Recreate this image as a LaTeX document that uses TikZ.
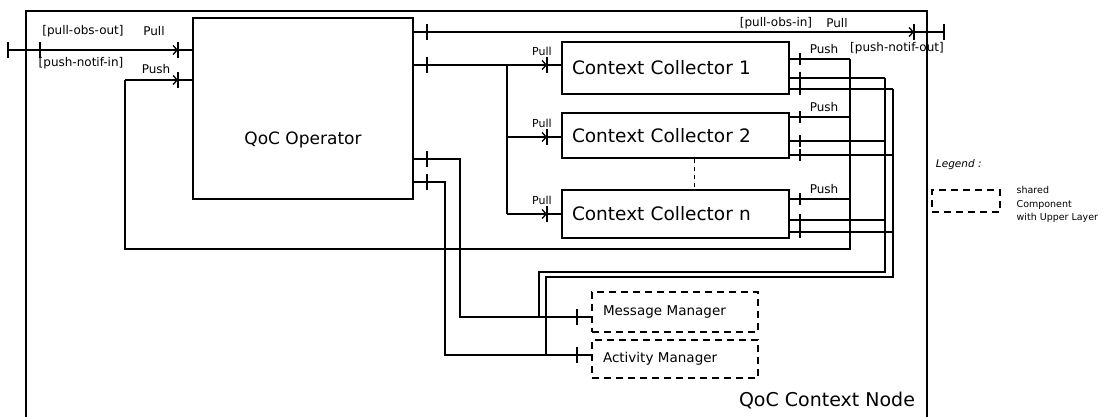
\documentclass[tikz,border=0pt]{standalone}
\usepackage{fontspec}
\setmainfont{DejaVu Sans}
\usetikzlibrary{arrows.meta}
\begin{document}
\begin{tikzpicture}[x=1pt,y=-1pt,line width=1.3pt,>={Straight Barb[length=4pt,width=9pt]},
	comp/.style={draw,rectangle,inner sep=0pt},
	coll/.style={draw,rectangle,inner xsep=10pt,inner ysep=0pt,text width=207pt,align=left,font=\fontsize{18.5}{19}\selectfont},
	shared/.style={draw,dash pattern=on 7pt off 5pt,line width=1.1pt,inner xsep=11pt,inner ysep=0pt,text width=144pt,align=left,font=\fontsize{13.5}{14}\selectfont},
	lbl/.style={inner sep=0pt,font=\fontsize{12}{12}\selectfont}]
	\useasboundingbox (0,0) rectangle (1109,417);
	% node frame
	\draw (26,417) -- (26,11) -- (927,11) -- (927,417);
	\node (nodename) at (827,401) {\fontsize{19}{19}\selectfont QoC Context Node};
	% components
	\node[comp,minimum width=220pt,minimum height=181pt] (op) at (303,108.5) {};
	\node[font=\fontsize{17}{17}\selectfont] (opname) at (303,140) {QoC Operator};
	\node[coll,minimum height=52pt] (cc1) at (675.5,68) {Context Collector 1};
	\node[coll,minimum height=45pt] (cc2) at (675.5,135.5) {Context Collector 2};
	\node[coll,minimum height=48pt] (ccn) at (675.5,214) {Context Collector n};
	\node[shared,minimum height=40pt] (mm) at (675,312) {Message Manager};
	\node[shared,minimum height=38pt] (am) at (675,359) {Activity Manager};
	\draw[dash pattern=on 4pt off 4pt,line width=1pt] (cc2.south -| 694,0) -- (ccn.north -| 694,0);
	% outer ports
	\coordinate (obsout) at (8,50);
	\coordinate (notifin) at (125,80);
	\coordinate (obsin) at (944,32);
	\draw[->] (obsout) -- (178,50);
	\draw (178,50) -- (op.west |- 0,50);
	\draw[->] (notifin) -- (178,80);
	\draw (178,80) -- (op.west |- 0,80);
	\draw[->] (op.east |- 0,32) -- (914,32);
	\draw (914,32) -- (obsin);
	\node[lbl] at (83,31) {[pull-obs-out]};
	\node[lbl] at (154,31) {Pull};
	\node[lbl] at (81,63) {[push-notif-in]};
	\node[lbl] at (156,69) {Push};
	\node[lbl] at (776,23) {[pull-obs-in]};
	\node[lbl] at (837,23) {Pull};
	\node[lbl] at (897,48) {[push-notif-out]};
	% pull towards the collectors
	\draw (op.east |- 0,65) -- (507,65) -- (507,214);
	\foreach \c/\y in {cc1/65,cc2/137,ccn/214}{
		\draw[->] (507,\y) -- (547,\y);
		\draw (547,\y) -- (\c.west |- 0,\y);
		\node[lbl,font=\fontsize{11}{11}\selectfont] at (542,\y-14) {Pull};
	}
	% collector outputs
	\foreach \c/\a/\b/\d in {cc1/59/78/89,cc2/117/141/155,ccn/199/220/232}{
		\draw (\c.east |- 0,\a) -- (850,\a);
		\draw (\c.east |- 0,\b) -- (885,\b);
		\draw (\c.east |- 0,\d) -- (893,\d);
		\node[lbl] at (824,\a-10) {Push};
		\foreach \y in {\a,\b,\d}
			\draw (800,\y-6) -- (800,\y+6);
	}
	\draw (notifin) -- (125,249) -- (850,249) -- (850,59);
	\draw (885,78) |- (539,272) -- (539,317);
	\draw (893,89) |- (546,277) -- (546,355);
	% operator to managers
	\draw (op.east |- 0,159) -| (460,317) -- (mm.west |- 0,317);
	\draw (op.east |- 0,182) -| (445,355) -- (am.west |- 0,355);
	% port ticks
	\foreach \x/\y in {8/50,40/50,178/50,178/80,427/32,427/65,427/159,427/182,547/65,547/137,547/214,914/32,944/32,577/317,577/355}
		\draw (\x,\y-8) -- (\x,\y+8);
	% legend
	\node[anchor=west,font=\itshape\fontsize{10.5}{10.5}\selectfont] (legend) at (932,165) {Legend :};
	\node[draw,dash pattern=on 7pt off 5pt,line width=1.1pt,minimum width=68pt,minimum height=22pt] (key) at (966,201) {};
	\node[anchor=west,align=left,inner sep=0pt,font=\fontsize{9.5}{13.5}\selectfont] (keytext) at (1016,204.5) {shared\\Component\\with Upper Layer};
\end{tikzpicture}
\end{document}
